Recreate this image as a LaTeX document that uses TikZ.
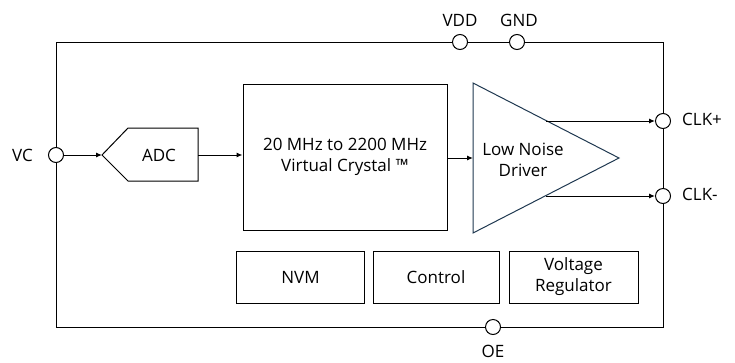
\documentclass[tikz,border=0pt]{standalone}
\usepackage{fontspec}
\setmainfont{Open Sans}
\usetikzlibrary{arrows.meta,positioning}
\tikzset{
  wire/.style={line width=1pt,draw=black},
  arr/.style={wire,-{Latex[length=6pt,width=5pt]}},
  pin/.style={circle,draw=black,fill=white,line width=1pt,minimum size=15pt,inner sep=0pt},
  blk/.style={draw=black,line width=1pt,rectangle,inner sep=0pt,align=center,font=\fontsize{17pt}{21pt}\selectfont},
  lbl/.style={font=\fontsize{17pt}{21pt}\selectfont,inner sep=0pt},
  txt/.style={font=\fontsize{17pt}{21pt}\selectfont,align=center,inner sep=0pt}
}
\begin{document}
\begin{tikzpicture}[x=1pt,y=-1pt]
\useasboundingbox (0,0) rectangle (735,362);
% outer box
\draw[wire] (56,42) rectangle (663,327);
% pins
\node[pin] (vc) at (56,155) {};
\node[pin] (vdd) at (460,42) {};
\node[pin] (gnd) at (517,42) {};
\node[pin] (clkp) at (663,121) {};
\node[pin] (clkm) at (663,196) {};
\node[pin] (oe) at (493,327) {};
\node[lbl,anchor=east] (vcl) at (33,155) {VC};
\node[lbl] (vddl) at (460,20) {VDD};
\node[lbl] (gndl) at (519,20) {GND};
\node[lbl,anchor=west] (clkpl) at (682,119) {CLK+};
\node[lbl,anchor=west] (clkml) at (682,194) {CLK-};
\node[lbl] (oel) at (493,351) {OE};
% ADC
\node[txt,minimum width=96pt,minimum height=53pt] (adc) at (150,155) {\hspace*{18pt}ADC};
\draw[line width=1pt] (102,155) -- (128,128) -- (198,128) -- (198,181) -- (128,181) -- cycle;
% crystal
\node[blk,minimum width=204pt,minimum height=146pt] (xtal) at (345,157) {20 MHz to 2200 MHz\\Virtual Crystal ™};
% driver
\coordinate (tl) at (473,83);
\coordinate (bl) at (473,233);
\coordinate (tip) at (619,158);
\draw[line width=1pt,draw={rgb,255:red,31;green,56;blue,80}] (tl) -- (tip) -- (bl) -- cycle;
\node[txt] (drv) at (523,160) {Low Noise\\Driver};
\coordinate (op) at (546,121);
\coordinate (om) at (546,196);
% bottom blocks
\node[blk,minimum width=128pt,minimum height=52pt] (nvm) at (300.5,277) {NVM};
\node[blk,minimum width=126pt,minimum height=52pt] (ctl) at (436,277) {Control};
\node[blk,minimum width=129pt,minimum height=52pt] (vreg) at (573.5,277) {Voltage\\Regulator};
% connectors
\draw[arr] (vc.east) -- (102,155);
\draw[arr] (198,155) -- (xtal.west |- 0,155);
\draw[arr] (447,158) -- (tl |- 0,158);
\draw[arr] (op) -- (clkp.west);
\draw[arr] (om) -- (clkm.west);
\end{tikzpicture}
\end{document}
